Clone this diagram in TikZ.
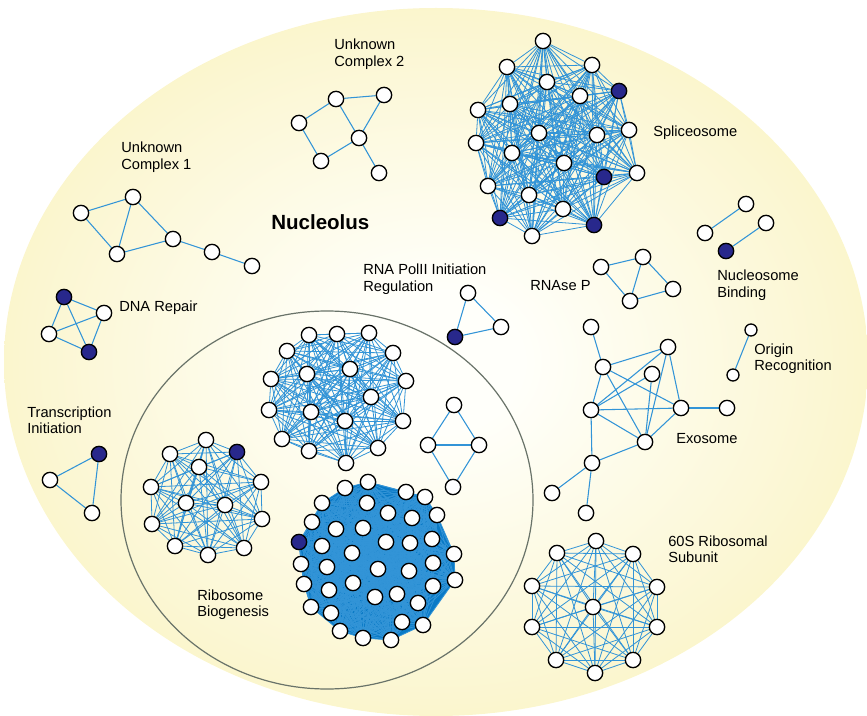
\documentclass[tikz,border=0pt]{standalone}
\usepackage{fontspec}
\setmainfont{Liberation Sans}
\definecolor{edgeblue}{RGB}{50,148,215}
\definecolor{densefill}{RGB}{10,122,198}
\definecolor{navy}{RGB}{40,40,140}
\definecolor{nucin}{RGB}{255,255,250}
\definecolor{nucmid}{RGB}{251,246,208}
\definecolor{nucout}{RGB}{247,237,155}
\definecolor{ringgray}{RGB}{105,115,105}
\pgfdeclareradialshading{nucshade}{\pgfpoint{0bp}{0bp}}{color(0bp)=(nucin);color(5bp)=(nucin);color(24bp)=(nucmid);color(42bp)=(nucout);color(50bp)=(nucout)}
\pgfdeclarelayer{back}
\pgfdeclarelayer{edges}
\pgfsetlayers{back,edges,main}
\tikzset{
 wn/.style={circle,draw=black,fill=white,line width=1pt,minimum size=11.5pt,inner sep=0pt},
 dn/.style={wn,fill=navy},
 sn/.style={wn,minimum size=9pt},
 edge/.style={draw=edgeblue,line width=0.8pt},
 thinedge/.style={draw=edgeblue,line width=0.6pt},
 lbl/.style={anchor=base west,inner sep=0pt,font=\fontsize{11}{12.4}\selectfont,text=black},
}
\newcommand\cgraph[2]{%
  \foreach \ii in {2,...,#2}{%
    \pgfmathtruncatemacro\jmax{\ii-1}%
    \foreach \jj in {1,...,\jmax}{\draw[thinedge] (#1\ii) -- (#1\jj);}%
  }}
\newcommand\twol[2]{\begin{tabular}[t]{@{}l@{}}#1\\#2\end{tabular}}
\begin{document}
\begin{tikzpicture}[x=0.75pt,y=-0.75pt]
\useasboundingbox (0,0) rectangle (867,716);
\begin{pgfonlayer}{back}
\shade[shading=nucshade] (436,362) ellipse [x radius=432, y radius=354];
\draw[ringgray,line width=0.9pt] (327,500) ellipse [x radius=206, y radius=189];
\end{pgfonlayer}

% ---------- nodes ----------
% Spliceosome
\foreach \n/\x/\y/\s in {1/543/41/wn,2/507/67/wn,3/592/65/wn,4/547/82/wn,5/619/91/dn,6/580/96/wn,7/510/104/wn,8/478/110/wn,9/629/130/wn,10/539/133/wn,11/597/135/wn,12/476/143/wn,13/512/153/wn,14/564/163/wn,15/604/177/dn,16/637/173/wn,17/488/186/wn,18/529/195/wn,19/500/218/dn,20/563/209/wn,21/594/225/dn,22/532/236/wn}
  \node[\s] (sp\n) at (\x,\y) {};
% upper middle cluster
\foreach \n/\x/\y in {1/309/335,2/337/334,3/369/333,4/287/351,5/393/353,6/307/374,7/350/369,8/271/379,9/406/381,10/371/397,11/269/410,12/311/412,13/345/421,14/403/421,15/282/439,16/309/451,17/378/448,18/346/463}
  \node[wn] (um\n) at (\x,\y) {};
% lower left cluster
\foreach \n/\x/\y/\s in {1/206/440/wn,2/170/454/wn,3/237/452/dn,4/199/467/wn,5/151/487/wn,6/261/482/wn,7/186/503/wn,8/225/505/wn,9/152/524/wn,10/262/519/wn,11/175/546/wn,12/244/548/wn,13/208/555/wn}
  \node[\s] (ll\n) at (\x,\y) {};
% big dense cluster
\foreach \n/\x/\y/\s in {1/345/488/wn,2/368/482/wn,3/406/492/wn,4/425/497/wn,5/322/503/wn,6/367/503/wn,7/388/513/wn,8/437/515/wn,9/412/518/wn,10/312/522/wn,11/336/529/wn,12/363/528/wn,13/299/542/dn,14/322/546/wn,15/386/542/wn,16/410/543/wn,17/432/539/wn,18/352/553/wn,19/454/554/wn,20/301/564/wn,21/327/567/wn,22/378/569/wn,23/409/571/wn,24/433/563/wn,25/455/580/wn,26/304/584/wn,27/329/590/wn,28/353/583/wn,29/433/586/wn,30/375/597/wn,31/397/594/wn,32/418/603/wn,33/311/607/wn,34/331/613/wn,35/402/622/wn,36/423/625/wn,37/340/631/wn,38/363/638/wn,39/391/640/wn}
  \node[\s] (bc\n) at (\x,\y) {};
% 60S ribosomal subunit
\foreach \n/\x/\y in {1/596/541,2/557/553,3/633/554,4/532/586,5/657/587,6/593/607,7/532/627,8/657/627,9/556/660,10/633/660,11/595/673}
  \node[wn] (rs\n) at (\x,\y) {};
% small complexes
\foreach \n/\x/\y in {a/81/213,b/133/197,c/117/254,d/173/239,e/212/252,f/252/266}
  \node[wn] (uo\n) at (\x,\y) {};
\foreach \n/\x/\y in {a/299/123,b/336/99,c/384/95,d/359/138,e/321/161,f/379/173}
  \node[wn] (ut\n) at (\x,\y) {};
\foreach \n/\x/\y/\s in {1/64/297/dn,2/104/313/wn,3/49/334/wn,4/89/352/dn}
  \node[\s] (dr\n) at (\x,\y) {};
\foreach \n/\x/\y/\s in {1/99/454/dn,2/50/480/wn,3/92/513/wn}
  \node[\s] (ti\n) at (\x,\y) {};
\foreach \n/\x/\y/\s in {1/468/293/wn,2/455/337/dn,3/501/327/wn}
  \node[\s] (rp\n) at (\x,\y) {};
\foreach \n/\x/\y in {1/454/405,2/428/445,3/479/445,4/453/487}
  \node[wn] (dm\n) at (\x,\y) {};
\foreach \n/\x/\y in {1/601/267,2/643/257,3/673/289,4/630/301}
  \node[wn] (rn\n) at (\x,\y) {};
\foreach \n/\x/\y/\s in {1/705/233/wn,2/746/204/wn,3/726/251/dn,4/766/223/wn}
  \node[\s] (nb\n) at (\x,\y) {};
\node[sn] (or1) at (751,330) {};
\node[sn] (or2) at (733,375) {};
\foreach \n/\x/\y in {a/591/327,b/668/347,c/603/367,d/652/374,e/591/410,f/681/408,g/727/408,h/645/442,i/592/463,j/552/493,k/586/513}
  \node[wn] (ex\n) at (\x,\y) {};

% ---------- edges ----------
\begin{pgfonlayer}{edges}
\fill[densefill] (bc2.center) -- (bc3.center) -- (bc4.center) -- (bc8.center) -- (bc19.center) -- (bc25.center) -- (bc36.center) -- (bc39.center) -- (bc38.center) -- (bc37.center) -- (bc33.center) -- (bc26.center) -- (bc20.center) -- (bc13.center) -- (bc10.center) -- (bc5.center) -- (bc1.center) -- cycle;
\cgraph{sp}{22}
\cgraph{um}{18}
\cgraph{ll}{13}
\cgraph{bc}{39}
\cgraph{rs}{11}
\foreach \a/\b in {a/b,a/c,b/c,b/d,c/d,d/e,e/f} \draw[edge] (uo\a) -- (uo\b);
\foreach \a/\b in {a/b,b/c,b/d,c/d,a/e,e/d,d/f} \draw[edge] (ut\a) -- (ut\b);
\foreach \a/\b in {1/2,1/3,1/4,2/3,2/4,3/4} \draw[edge] (dr\a) -- (dr\b);
\foreach \a/\b in {1/2,1/3,2/3} \draw[edge] (ti\a) -- (ti\b);
\foreach \a/\b in {1/2,1/3,2/3} \draw[edge] (rp\a) -- (rp\b);
\foreach \a/\b in {1/2,1/3,2/3,2/4,3/4} \draw[edge] (dm\a) -- (dm\b);
\foreach \a/\b in {1/2,1/4,2/4,2/3,3/4} \draw[edge] (rn\a) -- (rn\b);
\foreach \a/\b in {1/2,3/4} \draw[edge] (nb\a) -- (nb\b);
\draw[edge] (or1) -- (or2);
\foreach \a/\b in {a/c,c/b,c/f,c/h,c/e,b/e,b/h,b/f,d/e,d/h,e/f,e/h,f/h,f/g,e/i,h/i,i/j,i/k} \draw[edge] (ex\a) -- (ex\b);
\end{pgfonlayer}

% ---------- labels ----------
\node[lbl] (l1) at (334,50) {\twol{Unknown}{Complex 2}};
\node[lbl] (l2) at (121,153) {\twol{Unknown}{Complex 1}};
\node[lbl,font=\fontsize{15.4}{18}\selectfont\bfseries] (l3) at (271,230) {Nucleolus};
\node[lbl] (l4) at (363,275) {\twol{RNA PolII Initiation}{Regulation}};
\node[lbl] (l5) at (653,137) {Spliceosome};
\node[lbl] (l6) at (717,281) {\twol{Nucleosome}{Binding}};
\node[lbl] (l7) at (530,291) {RNAse P};
\node[lbl] (l8) at (119,312) {DNA Repair};
\node[lbl] (l9) at (754,354) {\twol{Origin}{Recognition}};
\node[lbl] (l10) at (27,417) {\twol{Transcription}{Initiation}};
\node[lbl] (l11) at (676,443) {Exosome};
\node[lbl] (l12) at (668,546) {\twol{60S Ribosomal}{Subunit}};
\node[lbl] (l13) at (197,600) {\twol{Ribosome}{Biogenesis}};
\end{tikzpicture}
\end{document}
